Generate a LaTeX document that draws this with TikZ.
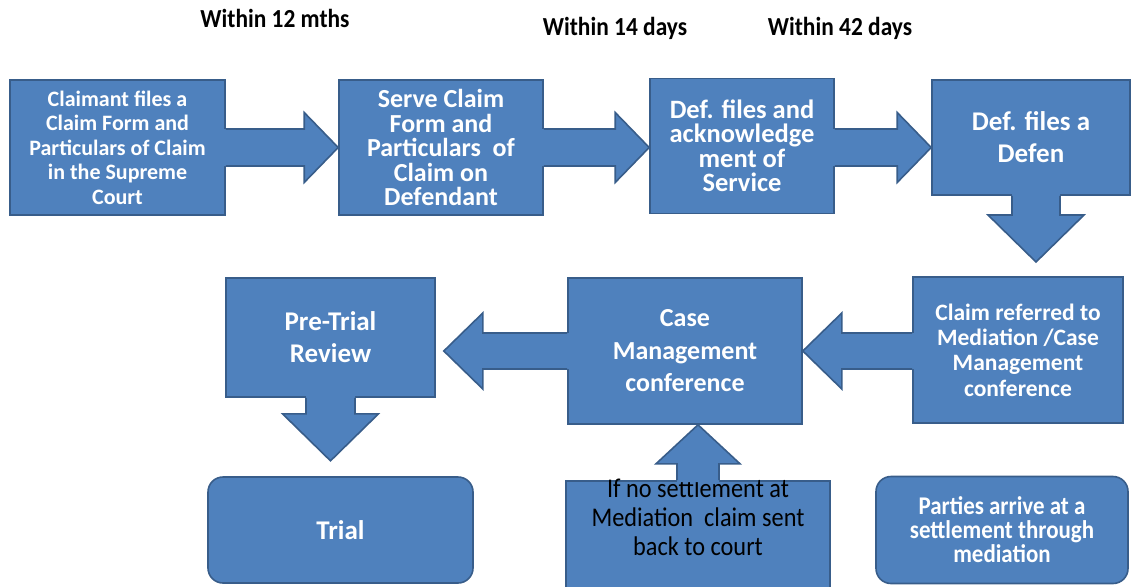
\documentclass[tikz,border=0pt]{standalone}
\usepackage{fontspec}
\setmainfont{Carlito}
\newfontfamily\condfont[FakeStretch=0.9]{Carlito}
\usetikzlibrary{calc}

\definecolor{boxblue}{RGB}{79,129,189}
\definecolor{boxline}{RGB}{56,93,138}

\tikzset{
  stage/.style={draw=boxline, fill=boxblue, line width=1.6pt, text=white, align=center, inner sep=2pt},
  endstage/.style={stage, rounded corners=15pt},
  txt/.style 2 args={font=\bfseries\fontsize{#1}{#2}\selectfont},
  timing/.style={font=\condfont\bfseries\fontsize{26}{28}\selectfont},
  backtext/.style={align=center, font=\condfont\fontsize{27}{29}\selectfont},
}

% block arrow: start, tip, shaft half width, head half width, head length
\newcommand{\blockarrow}[5]{%
  \coordinate (ba-s) at (#1);
  \coordinate (ba-t) at (#2);
  \coordinate (ba-h) at ($(ba-t)!#5!(ba-s)$);
  \coordinate (ba-b) at ($(ba-s)!-2pt!(ba-t)$);
  \fill[boxblue] ($(ba-b)!#3!90:(ba-t)$) -- ($(ba-h)!#3!90:(ba-t)$) -- ($(ba-h)!#4!90:(ba-t)$)
    -- (ba-t) -- ($(ba-h)!#4!-90:(ba-t)$) -- ($(ba-h)!#3!-90:(ba-t)$) -- ($(ba-b)!#3!-90:(ba-t)$) -- cycle;
  \draw[boxline, line width=1.6pt, line join=miter] ($(ba-s)!#3!90:(ba-t)$) -- ($(ba-h)!#3!90:(ba-t)$)
    -- ($(ba-h)!#4!90:(ba-t)$) -- (ba-t) -- ($(ba-h)!#4!-90:(ba-t)$) -- ($(ba-h)!#3!-90:(ba-t)$)
    -- ($(ba-s)!#3!-90:(ba-t)$);
}

\begin{document}
\begin{tikzpicture}[x=1pt,y=-1pt]
\useasboundingbox (0,0) rectangle (1131,586);

% time limits
\node[timing] (t12) at (275,18) {Within 12 mths};
\node[timing] (t14) at (615,28) {Within 14 days};
\node[timing] (t42) at (840,28) {Within 42 days};

% top row
\node[stage, txt={22}{24.5}, minimum width=215, minimum height=135] (claim) at (117.5,147.5)
  {Claimant files a\\Claim Form and\\Particulars of Claim\\in the Supreme\\Court};
\node[stage, txt={26}{24.5}, minimum width=204, minimum height=135] (serve) at (441,147.5)
  {Serve Claim\\Form and\\Particulars~ of\\Claim on\\Defendant};
\node[stage, txt={26.5}{24.5}, minimum width=184, minimum height=135] (ack) at (742,146)
  {Def. files and\\acknowledge\\ment of\\Service};
\node[stage, txt={27}{32}, minimum width=198, minimum height=115] (defence) at (1031,137.5)
  {Def. files a\\Defen};

% middle row
\node[stage, txt={23.5}{25.3}, minimum width=210, minimum height=146] (refer) at (1018,350)
  {Claim referred to\\Mediation /Case\\Management\\conference};
\node[stage, txt={26}{32.5}, minimum width=234, minimum height=146] (cmc) at (685,351)
  {Case\\Management\\conference};
\node[stage, txt={27}{32}, minimum width=209, minimum height=119] (ptr) at (330.5,337.5)
  {Pre-Trial\\Review};

% bottom row
\node[endstage, txt={27}{32}, minimum width=265, minimum height=106] (trial) at (340.5,530) {Trial};
\node[stage, minimum width=264, minimum height=130, anchor=north] (nosettle) at (698,480) {};
\node[backtext] (nosettle-txt) at ($(nosettle.north)+(0,37)$)
  {If no settlement at\\Mediation~ claim sent\\back to court};
\node[endstage, minimum width=252, minimum height=107, font=\condfont\bfseries\fontsize{25.5}{24}\selectfont]
  (settle) at (1002,530) {Parties arrive at a\\settlement through\\mediation};

% arrows
\coordinate (dtip) at (1036,262);
\blockarrow{claim.east}{serve.west |- claim.east}{18.5pt}{35pt}{34pt}
\blockarrow{serve.east}{ack.west |- serve.east}{18.5pt}{35pt}{34pt}
\blockarrow{ack.east |- serve.east}{defence.west |- serve.east}{18.5pt}{35pt}{34pt}
\blockarrow{dtip |- defence.south}{dtip}{24pt}{48pt}{47pt}
\blockarrow{refer.west |- cmc.east}{cmc.east}{18pt}{38pt}{39pt}
\blockarrow{cmc.west}{$(ptr.east |- cmc.west)+(8,0)$}{18pt}{38pt}{39pt}
\blockarrow{ptr.south}{$(ptr.south)+(0,63)$}{24.5pt}{48pt}{47pt}
\blockarrow{nosettle.north}{nosettle.north |- cmc.south}{21pt}{42pt}{39pt}
\end{tikzpicture}
\end{document}
